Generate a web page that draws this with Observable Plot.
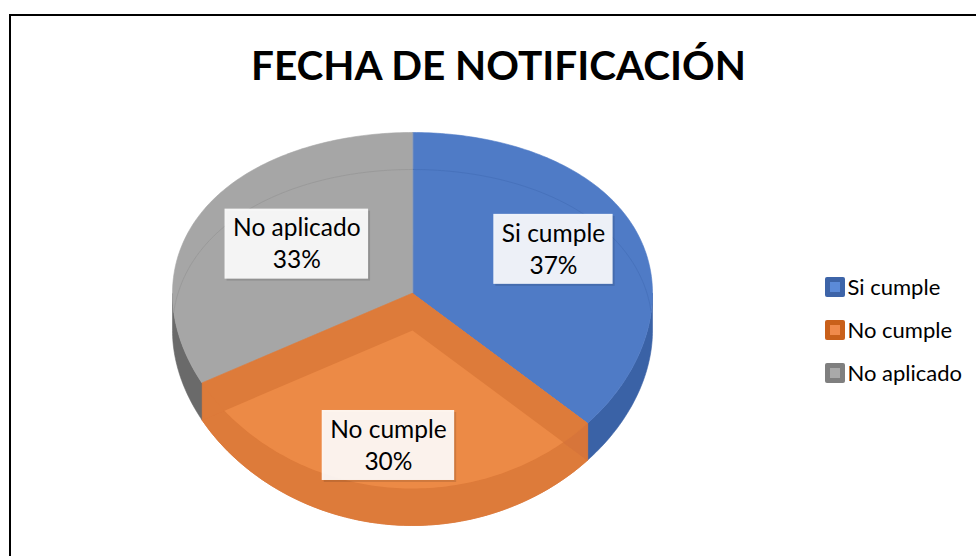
<!DOCTYPE html>
<html><head><meta charset="utf-8">
<script src="https://cdn.jsdelivr.net/npm/d3@7"></script>
<script src="https://cdn.jsdelivr.net/npm/@observablehq/plot@0.6"></script>
<style>
html,body{margin:0;padding:0;background:#fff;overflow:hidden;}
#wrap{position:relative;width:976px;height:556px;overflow:hidden;}
#frame{position:absolute;left:9px;top:14px;width:1200px;height:800px;border:2px solid #000;box-sizing:border-box;}
#chart{position:absolute;left:0;top:0;}
</style></head><body>
<div id="wrap"><div id="frame"></div><div id="chart"></div></div>
<script>
// ---- data ----
const title = "FECHA DE NOTIFICACIÓN";
const categories = ["Si cumple", "No cumple", "No aplicado"];
const values = [37, 30, 33];
const percentLabels = ["37%", "30%", "33%"];

// ---- styles ----
const faceColors = ["#4F7BC6", "#DD7B3A", "#A6A6A6"];
const wallColors = ["#3A62A6", "#D7753A", "#6A6A6A"];
const rimColors  = ["#4772BC", "#DD7B3A", "#9A9A9A"];
const lightOrange = "#EC8A46";
const swatchOuter = ["#3D64A8", "#C9601A", "#7F7F7F"];
const swatchInner = ["#5B8AD8", "#F08A4B", "#A9A9A9"];
const FONT = "Lato";

// ---- layout ----
const W = 976, H = 556;
const cx = 412, cy = 293, rx = 240, ryMid = 178, ryPersp = 17, depth = 37;
const labelR = [0.64, 0.80, 0.56];
const labelFS = 24.5, lineGap = 32, boxPad = 8, boxH = 70;

const total = d3.sum(values);
let acc = 0;
const slices = values.map((v, i) => {
  const a0 = acc / total * 2 * Math.PI; acc += v;
  const a1 = acc / total * 2 * Math.PI;
  return {i, a0, a1, mid: (a0 + a1) / 2};
});
function P(theta, r = 1, dz = 0) {
  const u = r * Math.sin(theta), v = -r * Math.cos(theta);
  return [cx + rx * u, cy + v * (ryMid + ryPersp * v) + dz];
}
function arc(a0, a1, r = 1, dz = 0) {
  const n = Math.max(2, Math.ceil(Math.abs(a1 - a0) / (Math.PI / 180)));
  return d3.range(n + 1).map(k => P(a0 + (a1 - a0) * k / n, r, dz));
}
function sector(a0, a1, dz = 0) { return [P(0, 0, dz), ...arc(a0, a1, 1, dz)]; }
function inside([x, y]) {
  const u = (x - cx) / rx; if (Math.abs(u) > 1) return false;
  const s = Math.sqrt(1 - u * u);
  const yTop = cy - s * (ryMid - ryPersp * s);
  const yBot = cy + s * (ryMid + ryPersp * s);
  return y >= yTop && y <= yBot;
}
function angleOf([x, y]) {
  const u = (x - cx) / rx, d = y - cy;
  const v = (-ryMid + Math.sqrt(ryMid * ryMid + 4 * ryPersp * d)) / (2 * ryPersp);
  let a = Math.atan2(u, -v); if (a < 0) a += 2 * Math.PI; return a;
}
function exitPoint(a) {
  const c = P(0, 0, depth), e = P(a, 1, depth);
  let lo = 0, hi = 1;
  for (let k = 0; k < 40; k++) {
    const m = (lo + hi) / 2;
    const p = [c[0] + (e[0] - c[0]) * m, c[1] + (e[1] - c[1]) * m];
    if (inside(p)) lo = m; else hi = m;
  }
  return [c[0] + (e[0] - c[0]) * lo, c[1] + (e[1] - c[1]) * lo];
}

const poly = (pts, color, extra = {}) => Plot.line(pts, {x: d => d[0], y: d => d[1], fill: color, stroke: color, strokeWidth: 0.6, curve: "linear-closed", ...extra});

const marks = [];
for (const s of slices) {
  const lo = Math.max(s.a0, Math.PI / 2), hi = Math.min(s.a1, 3 * Math.PI / 2);
  if (hi > lo) marks.push(poly([...arc(lo, hi, 1, 0), ...arc(lo, hi, 1, depth).reverse()], wallColors[s.i]));
}
const seeThrough = 1;
for (const s of slices) if (s.i !== seeThrough) marks.push(poly(sector(s.a0, s.a1), faceColors[s.i]));
for (const s of slices) if (s.i !== seeThrough) {
  const pts = arc(s.a0, s.a1, 1, depth).filter(inside);
  if (pts.length > 1) marks.push(Plot.line(pts, {x: d => d[0], y: d => d[1], stroke: rimColors[s.i], strokeWidth: 1}));
}
{
  const s = slices[seeThrough], c = faceColors[s.i];
  marks.push(poly(sector(s.a0, s.a1, depth), c));
  marks.push(poly([P(0,0,0), P(s.a0), P(s.a0,1,depth), P(0,0,depth)], wallColors[s.i]));
  marks.push(poly([P(0,0,0), P(s.a1), P(s.a1,1,depth), P(0,0,depth)], c));
  marks.push(poly(sector(s.a0, s.a1), c));
  const B = exitPoint(s.a0), A = exitPoint(s.a1);
  marks.push(poly([P(0,0,depth), B, ...arc(angleOf(B), angleOf(A)), A], lightOrange, {strokeWidth: 0}));
}
// labels
const ctx = document.createElement("canvas").getContext("2d");
ctx.font = `${labelFS}px ${FONT}`;
const labels = slices.map(s => {
  const [x, y] = P(s.mid, labelR[s.i]);
  const w = Math.max(ctx.measureText(categories[s.i]).width, ctx.measureText(percentLabels[s.i]).width) + 2 * boxPad;
  return {x, y, w, text: categories[s.i] + "\n" + percentLabels[s.i]};
});
marks.push(Plot.rect(labels, {x1: d => d.x - d.w / 2 + 2, x2: d => d.x + d.w / 2 + 2, y1: d => d.y - boxH / 2 + 2, y2: d => d.y + boxH / 2 + 2, fill: "#000", fillOpacity: 0.12}));
marks.push(Plot.rect(labels, {x1: d => d.x - d.w / 2, x2: d => d.x + d.w / 2, y1: d => d.y - boxH / 2, y2: d => d.y + boxH / 2, fill: "#fff", fillOpacity: 0.9}));
marks.push(Plot.text(labels, {x: "x", y: d => d.y - 2, text: "text", fontSize: labelFS, lineHeight: lineGap / labelFS, fill: "#000", fontFamily: FONT}));

// legend
const legend = categories.map((c, i) => ({c, i, y: 287 + 43 * i}));
const lx = 835;
marks.push(Plot.rect(legend, {x1: lx - 10, x2: lx + 10, y1: d => d.y - 10, y2: d => d.y + 10, fill: d => swatchOuter[d.i], rx: 2}));
marks.push(Plot.rect(legend, {x1: lx - 5, x2: lx + 5, y1: d => d.y - 5, y2: d => d.y + 5, fill: d => swatchInner[d.i]}));
marks.push(Plot.text(legend, {x: lx + 12, y: "y", text: "c", textAnchor: "start", fontSize: 22, fill: "#000", fontFamily: FONT}));

// title
marks.push(Plot.text([title], {x: 498, y: 67, text: d => d, fontSize: 40.5, fontWeight: "bold", fill: "#000", fontFamily: FONT}));

const chart = Plot.plot({
  width: W, height: H, margin: 0,
  x: {domain: [0, W], range: [0, W], axis: null},
  y: {domain: [0, H], range: [0, H], axis: null},
  color: {type: "identity"},
  style: {background: "transparent", fontFamily: FONT},
  marks
});
document.getElementById("chart").appendChild(chart);
</script>
</body></html>
